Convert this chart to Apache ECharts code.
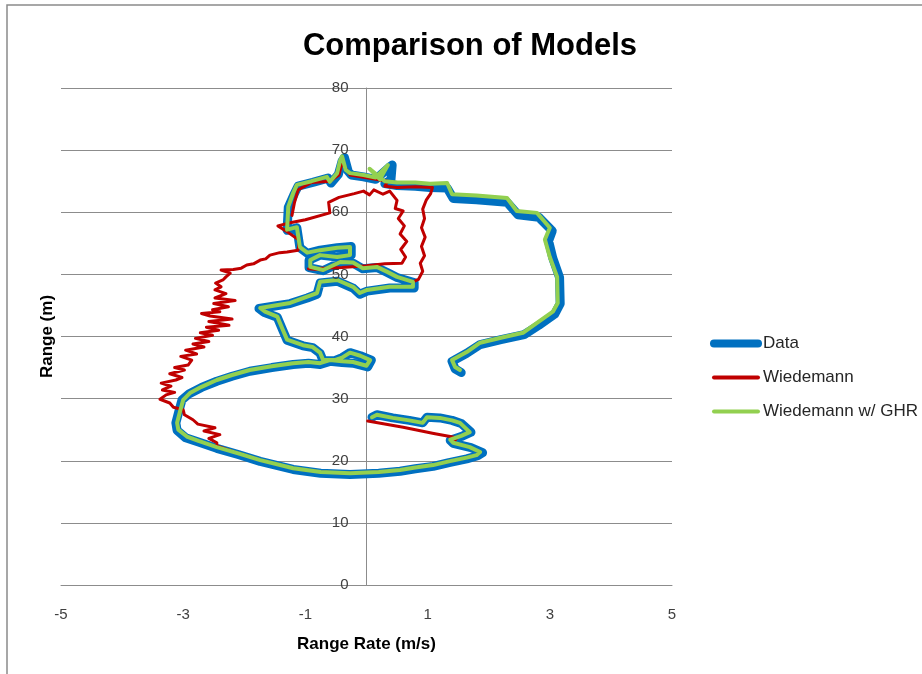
<!DOCTYPE html>
<html>
<head>
<meta charset="utf-8">
<script src="https://cdn.jsdelivr.net/npm/echarts@6/dist/echarts.min.js"></script>
<style>
html,body{margin:0;padding:0;background:#fff;}
#chart{width:922px;height:674px;}
</style>
</head>
<body>
<div id="chart"></div>
<script>
var titleText = 'Comparison of Models';
var xName = 'Range Rate (m/s)';
var yName = 'Range (m)';
var seriesNames = ['Data', 'Wiedemann', 'Wiedemann w/ GHR'];
var xTicks = [-5, -3, -1, 1, 3, 5];
var yTicks = [0, 10, 20, 30, 40, 50, 60, 70, 80];

// Data: [range rate, range]
var dataSeries = [
[0.09,27.0],[0.17,27.4],[0.43,26.9],[0.70,26.5],[0.92,26.1],[0.99,27.0],[1.20,26.9],[1.40,26.5],[1.55,26.0],[1.71,24.6],[1.55,23.9],[1.37,23.3],[1.42,22.8],[1.71,22.1],[1.90,21.3],[1.82,20.8],[1.64,20.3],[1.35,19.7],[1.09,19.1],[0.80,18.7],[0.55,18.3],[0.20,18.0],[-0.27,17.8],[-0.75,18.0],[-1.20,18.6],[-1.74,19.9],[-2.10,21.0],[-2.45,22.0],[-2.75,23.0],[-2.96,23.7],[-3.10,24.9],[-3.12,26.1],[-3.07,28.0],[-3.02,29.8],[-2.90,30.8],[-2.70,31.8],[-2.45,32.8],[-2.20,33.6],[-1.91,34.4],[-1.55,35.0],[-1.20,35.5],[-0.95,35.7],[-0.76,35.5],[-0.60,36.0],[-0.40,35.8],[-0.22,35.7],[0.02,35.1],[0.08,36.2],[-0.10,36.9],[-0.27,37.4],[-0.40,36.6],[-0.52,36.1],[-0.71,36.1],[-0.76,37.3],[-0.88,38.2],[-1.04,38.5],[-1.30,39.4],[-1.37,41.0],[-1.46,43.1],[-1.68,43.9],[-1.76,44.5],[-1.50,44.9],[-1.25,45.3],[-0.97,46.2],[-0.81,46.8],[-0.76,48.6],[-0.48,48.9],[-0.22,47.8],[-0.11,46.8],[0.01,47.3],[0.38,47.8],[0.78,47.8],[0.78,48.7],[0.50,49.5],[0.34,50.3],[0.17,51.1],[-0.06,50.9],[-0.22,51.8],[-0.43,51.9],[-0.71,50.6],[-0.94,51.1],[-0.94,52.3],[-0.76,53.1],[-0.48,52.8],[-0.25,53.1],[-0.25,54.5],[-0.48,54.3],[-0.76,53.9],[-0.97,53.4],[-1.09,54.3],[-1.14,57.5],[-1.30,57.1],[-1.28,60.8],[-1.18,63.0],[-1.12,64.2],[-0.88,64.8],[-0.63,65.5],[-0.58,64.7],[-0.46,66.1],[-0.40,68.2],[-0.36,68.8],[-0.30,66.6],[-0.25,66.0],[-0.05,65.7],[0.15,65.3],[0.38,67.3],[0.42,67.6],[0.40,65.2],[0.30,64.6],[0.50,64.3],[0.80,64.2],[1.04,64.0],[1.32,63.9],[1.42,62.2],[1.80,62.0],[2.30,61.6],[2.48,59.6],[2.82,59.2],[3.04,57.0],[2.98,55.4],[3.05,52.6],[3.16,49.5],[3.17,45.3],[3.08,43.6],[2.82,41.8],[2.58,40.3],[2.20,39.5],[1.86,38.7],[1.64,37.3],[1.40,36.0],[1.45,34.8],[1.55,34.2]
];

var wiedemannSeries = [
[0.02,26.4],[0.60,25.4],[1.10,24.4],[1.48,23.7],[1.42,22.9],[1.69,22.2],[1.86,21.4],[1.80,20.9],[1.64,20.5],[1.35,19.9],[1.09,19.3],[0.80,18.9],[0.55,18.5],[0.20,18.2],[-0.27,18.0],[-0.75,18.2],[-1.20,18.8],[-1.74,20.1],[-2.10,21.2],[-2.45,22.4],
[-2.45,22.9],[-2.58,23.6],[-2.40,24.2],[-2.66,24.8],[-2.48,25.3],[-2.76,25.9],[-2.84,26.6],[-2.98,27.4],[-3.00,28.2],[-3.16,28.6],[-3.22,29.3],[-3.38,29.9],[-3.28,30.6],[-3.14,31.0],[-3.34,31.4],[-3.20,32.0],[-3.36,32.5],[-3.12,33.0],[-3.02,33.4],[-3.22,34.0],[-2.98,34.6],[-3.14,35.0],[-2.92,35.4],[-2.86,36.2],[-3.04,36.8],[-2.78,37.2],[-2.96,37.8],[-2.66,38.3],[-2.84,38.8],[-2.58,39.2],[-2.80,39.7],[-2.52,40.2],[-2.72,40.6],[-2.42,41.0],[-2.62,41.5],[-2.25,41.8],[-2.58,42.4],[-2.20,42.8],[-2.56,43.3],[-2.70,43.7],[-2.40,44.0],[-2.52,44.3],[-2.26,44.8],[-2.50,45.3],[-2.15,45.8],[-2.48,46.2],[-2.30,46.9],[-2.48,47.5],[-2.38,48.0],[-2.47,48.6],[-2.35,49.1],[-2.30,49.6],[-2.23,50.2],[-2.38,50.7],[-2.18,50.8],[-2.05,51.0],[-1.96,51.5],[-1.85,51.7],[-1.74,52.3],[-1.65,52.5],[-1.58,53.1],[-1.42,53.5],[-1.30,53.6],[-1.12,53.9],
[-1.10,55.5],[-1.32,57.0],[-1.45,57.8],[-1.25,58.3],[-1.00,58.8],[-0.60,59.9],[-0.62,61.6],[-0.45,62.4],[-0.20,63.0],[-0.05,63.4],[0.05,62.8],[0.12,63.6],[0.27,62.9],[0.38,63.4],[0.50,61.9],[0.47,60.6],[0.60,60.2],[0.52,59.0],[0.62,57.8],[0.55,56.5],[0.66,55.3],[0.56,54.0],[0.64,52.8],[0.58,51.8],[0.30,51.7],[0.00,51.4],[-0.40,51.1],[-0.95,50.9],
[-0.92,51.2],[-0.71,50.7],[-0.43,52.0],[-0.22,51.9],[-0.06,51.0],[0.17,51.2],[0.34,50.4],[0.50,49.6],[0.76,48.8],[0.85,49.2],[0.92,50.5],[0.88,51.8],[0.95,53.0],[0.90,54.5],[0.96,56.0],[0.90,57.5],[0.95,59.0],[0.92,60.5],[0.98,62.0],[1.05,63.0],[1.08,64.0],[0.80,64.1],[0.50,64.0],[0.30,64.2],[0.35,65.0],[0.10,65.4],[-0.27,66.0],[-0.40,68.0],[-0.45,66.0],[-0.60,65.0],[-0.90,64.8],[-1.12,63.6],[-1.18,61.5],[-1.22,59.5]
];

var ghrSeries = [
[0.09,27.0],[0.17,27.4],[0.43,26.9],[0.70,26.5],[0.92,26.1],[0.99,27.0],[1.20,26.9],[1.40,26.5],[1.53,26.1],[1.69,24.6],[1.55,24.0],[1.37,23.4],[1.42,22.9],[1.69,22.2],[1.86,21.4],[1.80,20.9],[1.64,20.5],[1.35,19.9],[1.09,19.3],[0.80,18.9],[0.55,18.5],[0.20,18.2],[-0.27,18.0],[-0.75,18.2],[-1.20,18.8],[-1.74,20.1],[-2.10,21.2],[-2.45,22.2],[-2.75,23.2],[-2.94,23.9],[-3.08,25.0],[-3.10,26.1],[-3.05,28.0],[-3.00,29.8],[-2.89,30.9],[-2.70,31.9],[-2.45,33.0],[-2.20,33.8],[-1.91,34.6],[-1.55,35.2],[-1.20,35.7],[-0.95,35.9],[-0.76,35.7],[-0.60,36.2],[-0.40,36.0],[-0.22,35.9],[0.00,35.3],[0.06,36.2],[-0.10,36.9],[-0.27,37.4],[-0.40,36.6],[-0.52,36.2],[-0.71,36.2],[-0.76,37.4],[-0.88,38.3],[-1.04,38.6],[-1.30,39.5],[-1.37,41.1],[-1.46,43.2],[-1.66,44.0],[-1.74,44.6],[-1.50,45.0],[-1.25,45.4],[-0.97,46.4],[-0.81,47.0],[-0.76,48.8],[-0.48,49.1],[-0.22,48.0],[-0.11,47.0],[0.01,47.5],[0.38,48.0],[0.76,48.0],[0.76,48.8],[0.50,49.6],[0.34,50.4],[0.17,51.2],[-0.06,51.0],[-0.22,51.9],[-0.43,52.0],[-0.71,50.7],[-0.92,51.2],[-0.92,52.3],[-0.76,53.1],[-0.48,52.8],[-0.27,53.1],[-0.27,54.4],[-0.48,54.3],[-0.76,53.9],[-0.97,53.5],[-1.09,54.4],[-1.14,57.6],[-1.30,57.2],[-1.28,60.9],[-1.20,63.1],[-1.14,64.4],[-0.90,65.0],[-0.65,65.7],[-0.60,64.9],[-0.48,66.3],[-0.43,68.4],[-0.40,69.0],[-0.34,66.8],[-0.27,66.3],[-0.05,66.0],[0.15,65.6],[0.35,67.6],[0.22,65.3],[0.05,67.0],[0.30,65.0],[0.50,64.8],[0.80,64.8],[1.04,64.6],[1.32,64.7],[1.40,62.9],[1.80,62.7],[2.30,62.3],[2.46,60.2],[2.79,59.9],[3.00,57.5],[2.92,55.6],[3.00,52.8],[3.12,49.6],[3.13,45.4],[3.05,44.0],[2.79,42.2],[2.56,40.6],[2.20,39.8],[1.86,39.0],[1.64,37.5],[1.40,36.2],[1.45,35.1],[1.53,34.6]
];

var seriesColors = ['#0070C0', '#C00000', '#92D050'];
var legendWidths = [8, 4, 4];
var FONT = 'Liberation Sans';

// y axis sits at x = 0 of the x scale: offset from the grid's left edge
var GRID_LEFT = 61, GRID_RIGHT = 250, CHART_W = 922;
var plotW = CHART_W - GRID_LEFT - GRID_RIGHT;
var zeroOffset = plotW * (0 - xTicks[0]) / (xTicks[xTicks.length - 1] - xTicks[0]);

var yBase = {
  type: 'value',
  position: 'left',
  offset: -zeroOffset,
  min: yTicks[0],
  max: yTicks[yTicks.length - 1],
  interval: yTicks[1] - yTicks[0]
};

var chart = echarts.init(document.getElementById('chart'), null, {renderer: 'canvas'});
var option = {
  animation: false,
  backgroundColor: '#ffffff',
  title: {
    text: titleText,
    left: 465,
    top: 26,
    textAlign: 'center',
    textStyle: {fontFamily: FONT, fontSize: 31, fontWeight: 'bold', color: '#000000'}
  },
  graphic: [{
    type: 'rect',
    shape: {x: 7, y: 5, width: 960, height: 720},
    style: {fill: 'none', stroke: '#8a8a8a', lineWidth: 1.5},
    silent: true
  }],
  legend: {
    orient: 'vertical',
    left: 705,
    top: 330,
    itemWidth: 44,
    itemHeight: 14,
    itemGap: 17,
    padding: 5,
    itemStyle: {opacity: 0},
    data: seriesNames.map(function (n, i) {
      return {name: n, lineStyle: {width: legendWidths[i], color: seriesColors[i], cap: 'round'}};
    }),
    textStyle: {fontFamily: FONT, fontSize: 17, color: '#262626'}
  },
  grid: {left: GRID_LEFT, right: GRID_RIGHT, top: 88, bottom: 89, containLabel: false, outerBoundsMode: 'none'},
  xAxis: {
    type: 'value',
    min: xTicks[0],
    max: xTicks[xTicks.length - 1],
    interval: xTicks[1] - xTicks[0],
    name: xName,
    nameLocation: 'middle',
    nameGap: 51,
    nameTextStyle: {fontFamily: FONT, fontSize: 17, fontWeight: 'bold', color: '#000'},
    axisLine: {show: true, onZero: false, lineStyle: {color: '#8c8c8c', width: 1}},
    axisTick: {show: false},
    splitLine: {show: false},
    axisLabel: {fontFamily: FONT, fontSize: 15, color: '#404040', margin: 22}
  },
  yAxis: [
    Object.assign({}, yBase, {
      axisLine: {show: true, onZero: false, lineStyle: {color: '#8c8c8c', width: 1}},
      axisTick: {show: false},
      axisLabel: {show: false},
      splitLine: {show: true, lineStyle: {color: '#8c8c8c', width: 1}}
    }),
    Object.assign({}, yBase, {
      z: 20,
      name: yName,
      nameLocation: 'middle',
      nameGap: 311,
      nameTextStyle: {fontFamily: FONT, fontSize: 17, fontWeight: 'bold', color: '#000'},
      axisLine: {show: false},
      axisTick: {show: false},
      splitLine: {show: false},
      axisLabel: {fontFamily: FONT, fontSize: 15, color: '#404040', margin: 18}
    })
  ],
  series: [
    {name: seriesNames[0], type: 'line', yAxisIndex: 0, data: dataSeries, symbol: 'none', showSymbol: false,
     color: seriesColors[0], lineStyle: {width: 9, color: seriesColors[0], cap: 'round', join: 'round'}, z: 2},
    {name: seriesNames[1], type: 'line', yAxisIndex: 0, data: wiedemannSeries, symbol: 'none', showSymbol: false,
     color: seriesColors[1], lineStyle: {width: 3, color: seriesColors[1], cap: 'round', join: 'round'}, z: 3},
    {name: seriesNames[2], type: 'line', yAxisIndex: 0, data: ghrSeries, symbol: 'none', showSymbol: false,
     color: seriesColors[2], lineStyle: {width: 4, color: seriesColors[2], cap: 'round', join: 'round'}, z: 4}
  ]
};
chart.setOption(option);
</script>
</body>
</html>
